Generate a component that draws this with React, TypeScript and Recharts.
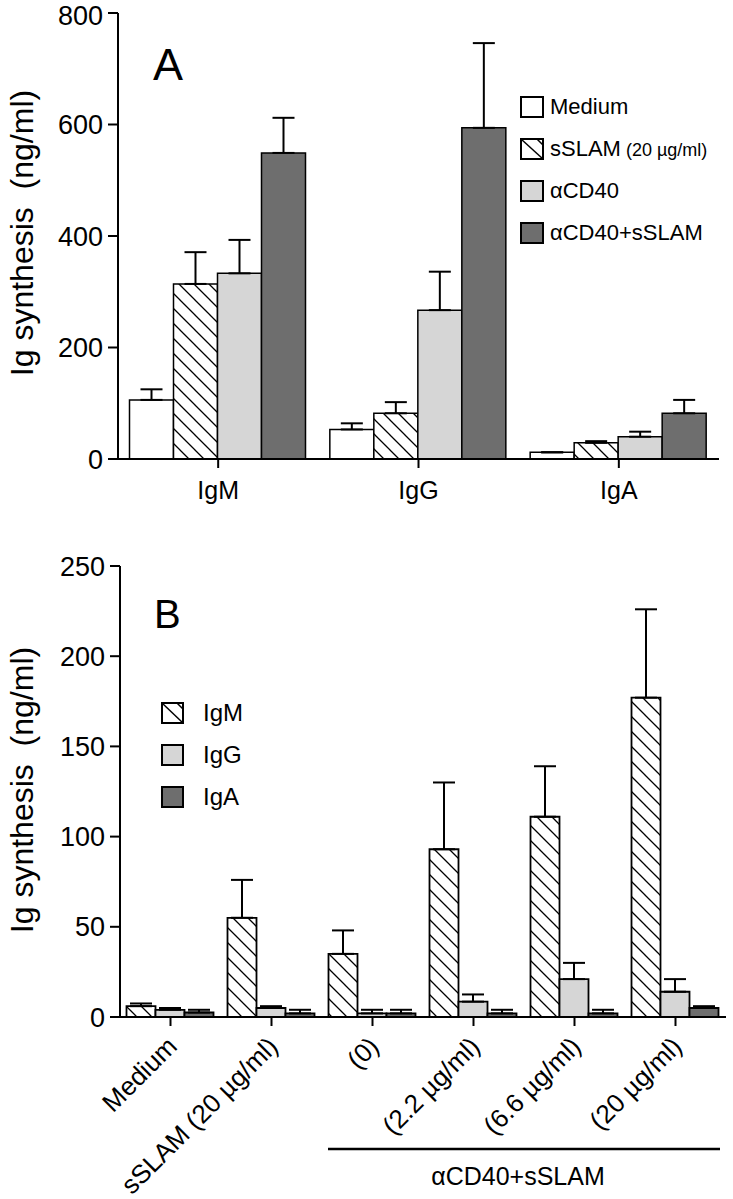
import { Bar, BarChart, ErrorBar, Legend, XAxis, YAxis } from "recharts";

const FONT = '"Liberation Sans", Arial, Helvetica, sans-serif';
const LIGHT = "#d6d6d6";
const DARK = "#6e6e6e";

// panel A
const categoriesA = ["IgM", "IgG", "IgA"];
const mediumA = [106, 53, 12];
const mediumTopA = [125, 64, 12];
const sslamA = [314, 82, 29];
const sslamTopA = [371, 102, 32];
const cd40A = [333, 267, 40];
const cd40TopA = [393, 336, 49];
const comboA = [549, 594, 82];
const comboTopA = [612, 746, 106];
const ticksA = [0, 200, 400, 600, 800];

// panel B
const categoriesB = ["Medium", "sSLAM (20 µg/ml)", "(0)", "(2.2 µg/ml)", "(6.6 µg/ml)", "(20 µg/ml)"];
const igmB = [6, 55, 35, 93, 111, 177];
const igmTopB = [7.5, 76, 48, 130, 139, 226];
const iggB = [4, 5, 2, 8.5, 21, 14];
const iggTopB = [5, 6, 4, 12.5, 30, 21];
const igaB = [2.5, 2, 2, 2, 2, 5];
const igaTopB = [4, 4, 4, 4, 4, 6];
const ticksB = [0, 50, 100, 150, 200, 250];

const dataA = categoriesA.map((cat, i) => ({
  cat,
  medium: mediumA[i],
  mediumErr: [0, mediumTopA[i] - mediumA[i]],
  sslam: sslamA[i],
  sslamErr: [0, sslamTopA[i] - sslamA[i]],
  cd40: cd40A[i],
  cd40Err: [0, cd40TopA[i] - cd40A[i]],
  combo: comboA[i],
  comboErr: [0, comboTopA[i] - comboA[i]]
}));

const dataB = categoriesB.map((cat, i) => ({
  cat,
  igm: igmB[i],
  igmErr: [0, igmTopB[i] - igmB[i]],
  igg: iggB[i],
  iggErr: [0, iggTopB[i] - iggB[i]],
  iga: igaB[i],
  igaErr: [0, igaTopB[i] - igaB[i]]
}));

const axisProps = { stroke: "#000", strokeWidth: 2 };

function Hatch({ id }: { id: string }) {
  return (
    <defs>
      <pattern id={id} patternUnits="userSpaceOnUse" width={15} height={15}>
        <rect width={15} height={15} fill="#fff" />
        <path
          d="M-4,-4 L19,19 M-4,11 L4,19 M11,-4 L19,4"
          stroke="#000"
          strokeWidth={1.3}
        />
      </pattern>
    </defs>
  );
}

function Swatch({ fill, hatch, w = 22, h = 20 }: { fill: string; hatch?: boolean; w?: number; h?: number }) {
  return (
    <svg width={w + 2} height={h + 2} style={{ display: "block" }}>
      <rect x={1} y={1} width={w} height={h} fill={fill} stroke="#000" strokeWidth={2} />
      {hatch && <line x1={1} y1={1} x2={w + 1} y2={h + 1} stroke="#000" strokeWidth={1.5} />}
      {hatch && <line x1={w - 5} y1={1} x2={w + 1} y2={7} stroke="#000" strokeWidth={1.5} />}
    </svg>
  );
}

const legendA = [
  { label: "Medium", fill: "#fff" },
  { label: "sSLAM", small: " (20 µg/ml)", fill: "#fff", hatch: true },
  { label: "αCD40", fill: LIGHT },
  { label: "αCD40+sSLAM", fill: DARK }
];

const legendB = [
  { label: "IgM", fill: "#fff", hatch: true },
  { label: "IgG", fill: LIGHT },
  { label: "IgA", fill: DARK }
];

function LegendA() {
  return (
    <div style={{ fontFamily: FONT, color: "#000" }}>
      {legendA.map((d) => (
        <div key={d.label} style={{ display: "flex", alignItems: "center", height: 42 }}>
          <Swatch fill={d.fill} hatch={d.hatch} />
          <span style={{ marginLeft: 6, fontSize: 22, whiteSpace: "pre" }}>
            {d.label}
            {d.small && <span style={{ fontSize: 18 }}>{d.small}</span>}
          </span>
        </div>
      ))}
    </div>
  );
}

function LegendB() {
  return (
    <div style={{ fontFamily: FONT, color: "#000" }}>
      {legendB.map((d) => (
        <div key={d.label} style={{ display: "flex", alignItems: "center", height: 42 }}>
          <Swatch fill={d.fill} hatch={d.hatch} w={21} />
          <span style={{ marginLeft: 19, fontSize: 24 }}>{d.label}</span>
        </div>
      ))}
    </div>
  );
}

function RotatedTick({ x, y, payload }: any) {
  return (
    <text
      x={0}
      y={0}
      transform={`translate(${x + 8},${y + 20}) rotate(-45)`}
      textAnchor="end"
      fontSize={26}
      fontFamily={FONT}
      fill="#000"
    >
      {payload.value}
    </text>
  );
}

const errProps = { stroke: "#000", strokeWidth: 2, direction: "y" as const };

export default function App() {
  return (
    <div style={{ position: "absolute", left: 0, top: 0, width: 733, height: 1199, background: "#fff" }}>
      <div style={{ position: "absolute", left: 0, top: 0 }}>
        <BarChart
          width={733}
          height={510}
          data={dataA}
          margin={{ top: 13, right: 14, bottom: 6, left: 38 }}
          barCategoryGap={11.5}
          barGap={0}
        >
          <Hatch id="hatchA" />
          <XAxis
            dataKey="cat"
            height={45}
            tickSize={9}
            tickMargin={13}
            axisLine={axisProps}
            tickLine={axisProps}
            tick={{ fill: "#000", fontSize: 25, fontFamily: FONT }}
          />
          <XAxis xAxisId="top" dataKey="cat" orientation="top" height={0} tick={false} tickLine={false} axisLine={axisProps} />
          <YAxis
            domain={[0, 800]}
            ticks={ticksA}
            width={80}
            tickSize={10}
            tickMargin={5}
            axisLine={axisProps}
            tickLine={axisProps}
            tick={{ fill: "#000", fontSize: 27, fontFamily: FONT }}
          />
          <YAxis yAxisId="right" orientation="right" width={0} tick={false} tickLine={false} axisLine={axisProps} />
          <Legend
            layout="vertical"
            align="center"
            verticalAlign="middle"
            content={() => <LegendA />}
            wrapperStyle={{ left: 520, top: 86, width: "auto" }}
          />
          <Bar dataKey="medium" fill="#fff" stroke="#000" strokeWidth={1.5} isAnimationActive={false}>
            <ErrorBar dataKey="mediumErr" width={11} {...errProps} />
          </Bar>
          <Bar dataKey="sslam" fill="url(#hatchA)" stroke="#000" strokeWidth={1.5} isAnimationActive={false}>
            <ErrorBar dataKey="sslamErr" width={11} {...errProps} />
          </Bar>
          <Bar dataKey="cd40" fill={LIGHT} stroke="#000" strokeWidth={1.5} isAnimationActive={false}>
            <ErrorBar dataKey="cd40Err" width={11} {...errProps} />
          </Bar>
          <Bar dataKey="combo" fill={DARK} stroke="#000" strokeWidth={1.5} isAnimationActive={false}>
            <ErrorBar dataKey="comboErr" width={11} {...errProps} />
          </Bar>
        </BarChart>
      </div>

      <div style={{ position: "absolute", left: 0, top: 520 }}>
        <BarChart
          width={733}
          height={679}
          data={dataB}
          margin={{ top: 46, right: 7, bottom: 32, left: 40 }}
          barCategoryGap={6.5}
          barGap={0}
        >
          <Hatch id="hatchB" />
          <XAxis
            dataKey="cat"
            height={150}
            interval={0}
            tickSize={9}
            tickMargin={2}
            axisLine={axisProps}
            tickLine={axisProps}
            tick={<RotatedTick />}
          />
          <XAxis xAxisId="top" dataKey="cat" orientation="top" height={0} tick={false} tickLine={false} axisLine={axisProps} />
          <YAxis
            domain={[0, 250]}
            ticks={ticksB}
            width={80}
            tickSize={10}
            tickMargin={5}
            axisLine={axisProps}
            tickLine={axisProps}
            tick={{ fill: "#000", fontSize: 27, fontFamily: FONT }}
          />
          <YAxis yAxisId="right" orientation="right" width={0} tick={false} tickLine={false} axisLine={axisProps} />
          <Legend
            layout="vertical"
            align="center"
            verticalAlign="middle"
            content={() => <LegendB />}
            wrapperStyle={{ left: 161, top: 172, width: "auto" }}
          />
          <Bar dataKey="igm" fill="url(#hatchB)" stroke="#000" strokeWidth={1.8} isAnimationActive={false}>
            <ErrorBar dataKey="igmErr" width={11} {...errProps} />
          </Bar>
          <Bar dataKey="igg" fill={LIGHT} stroke="#000" strokeWidth={1.8} isAnimationActive={false}>
            <ErrorBar dataKey="iggErr" width={11} {...errProps} />
          </Bar>
          <Bar dataKey="iga" fill={DARK} stroke="#000" strokeWidth={1.8} isAnimationActive={false}>
            <ErrorBar dataKey="igaErr" width={11} {...errProps} />
          </Bar>
        </BarChart>
      </div>

      <svg
        width={733}
        height={1199}
        style={{ position: "absolute", left: 0, top: 0, pointerEvents: "none" }}
        fontFamily={FONT}
      >
        <text x={153} y={80} fontSize={45} fill="#000">A</text>
        <text x={154} y={628} fontSize={40} fill="#000">B</text>
        <text
          transform="translate(33,233) rotate(-90)"
          textAnchor="middle"
          fontSize={32}
          fill="#000"
          style={{ whiteSpace: "pre" }}
        >
          {"Ig synthesis  (ng/ml)"}
        </text>
        <text
          transform="translate(33,790) rotate(-90)"
          textAnchor="middle"
          fontSize={32}
          fill="#000"
          style={{ whiteSpace: "pre" }}
        >
          {"Ig synthesis  (ng/ml)"}
        </text>
        <line x1={328} y1={1149} x2={720} y2={1149} stroke="#000" strokeWidth={2.5} />
        <text x={518} y={1185} textAnchor="middle" fontSize={25} fill="#000">αCD40+sSLAM</text>
      </svg>
    </div>
  );
}
